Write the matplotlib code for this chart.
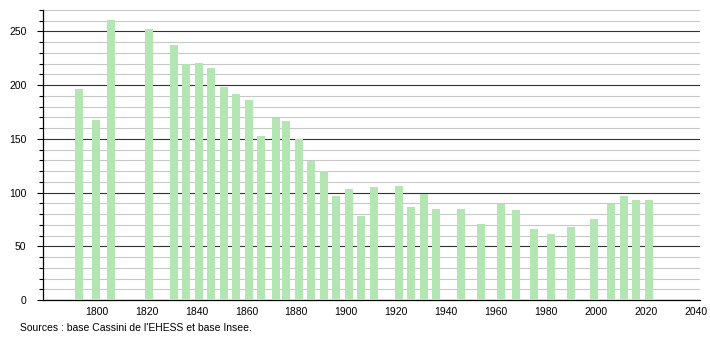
import numpy as np
import matplotlib.pyplot as plt
from matplotlib.ticker import MultipleLocator

plt.rcParams['font.family'] = ['Liberation Sans', 'DejaVu Sans']

# census years and population
years = [1793, 1800, 1806, 1821, 1831, 1836, 1841, 1846, 1851, 1856, 1861, 1866,
         1872, 1876, 1881, 1886, 1891, 1896, 1901, 1906, 1911, 1921, 1926, 1931,
         1936, 1946, 1954, 1962, 1968, 1975, 1982, 1990, 1999, 2006, 2011, 2016, 2021]
pop = [196, 168, 261, 252, 237, 220, 221, 216, 198, 192, 186, 153,
       169, 167, 150, 129, 120, 97, 103, 78, 105, 106, 87, 99,
       85, 85, 71, 89, 84, 66, 61, 68, 75, 89, 97, 93, 93]

xticks = list(range(1800, 2041, 20))
source = "Sources : base Cassini de l'EHESS et base Insee."

fig = plt.figure(figsize=(7.1, 3.4), dpi=100)
ax = fig.add_axes([43/710, 40/340, 657/710, 290/340])

ax.bar(years, pop, width=3.2, color='#b3e6b3', zorder=3)

ax.set_xlim(1778.6, 2041.6)
ax.set_ylim(0, 270)
ax.set_xticks(xticks)
ax.tick_params(axis='x', length=0, labelsize=7.5, pad=5)
ax.yaxis.set_major_locator(MultipleLocator(50))
ax.yaxis.set_minor_locator(MultipleLocator(10))
ax.tick_params(axis='y', which='major', length=4, width=0.8, labelsize=7.5, pad=8)
ax.tick_params(axis='y', which='minor', length=3, width=0.8)
ax.grid(axis='y', which='minor', color='#c8c8c8', linewidth=0.8, zorder=1)
ax.grid(axis='y', which='major', color='#333333', linewidth=0.8, zorder=2)

for s in ['top', 'right']:
    ax.spines[s].set_visible(False)
ax.spines['left'].set_linewidth(0.9)
ax.spines['bottom'].set_linewidth(0.9)

fig.text(20/710, 1 - 328/340, source, fontsize=7.5, va='center')

fig.savefig('out.png', dpi=100)
